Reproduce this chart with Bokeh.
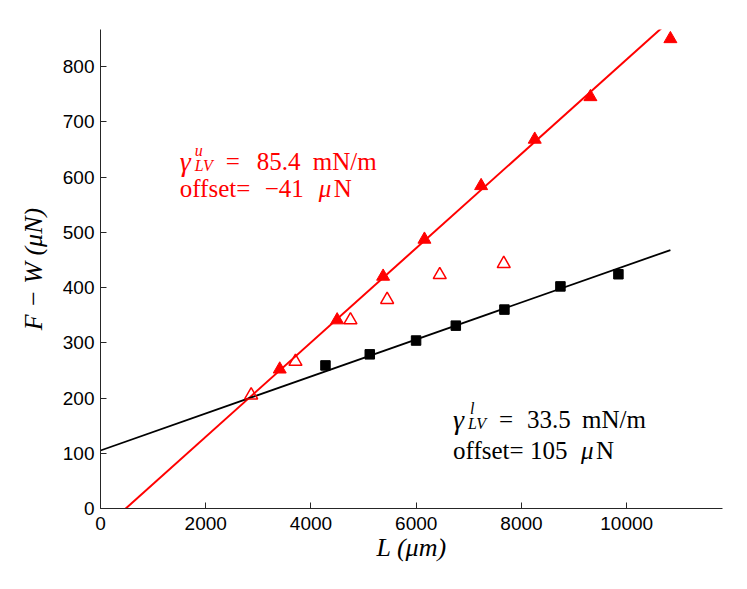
from bokeh.plotting import figure
from bokeh.models import Label, Range1d, FixedTicker
from bokeh.embed import file_html
from bokeh.resources import INLINE

# ---- data ----
L_upper = [3406, 4497, 5371, 6156, 7233, 8252, 9310, 10830]
F_upper = [252, 341, 420, 487, 584, 668, 745, 850]
L_open = [2863, 3705, 4750, 5447, 6447, 7663]
F_open = [205, 266, 341, 378, 423, 443]
L_lower = [4275, 5117, 5997, 6752, 7676, 8740, 9842]
F_lower = [259, 279, 304, 331, 360, 402, 424]

gamma_u, offset_u = 85.4, -41.0   # mN/m, uN
gamma_l, offset_l = 33.5, 105.0
L_fit = [0, 10830]

x_ticks = [0, 2000, 4000, 6000, 8000, 10000]
y_ticks = [0, 100, 200, 300, 400, 500, 600, 700, 800]

RED = "#ff0000"
SERIF = "Liberation Serif"
SANS = "Liberation Sans"

p = figure(frame_width=622, frame_height=479,
           x_range=Range1d(0, 11820), y_range=Range1d(0, 867),
           output_backend="svg", toolbar_location=None,
           min_border_left=100, min_border_right=17,
           min_border_top=29, min_border_bottom=73)
p.xgrid.visible = False
p.ygrid.visible = False
p.outline_line_color = None
p.background_fill_color = "white"

p.xaxis.ticker = FixedTicker(ticks=x_ticks)
p.yaxis.ticker = FixedTicker(ticks=y_ticks)
for ax in (p.xaxis, p.yaxis):
    ax.major_label_text_font = SANS
    ax.major_label_text_font_size = "19px"
    ax.major_label_text_color = "black"
    ax.major_tick_in = 6
    ax.major_tick_out = 0
    ax.minor_tick_in = 0
    ax.minor_tick_out = 0
    ax.axis_line_color = "#262626"
    ax.major_tick_line_color = "#262626"
    ax.axis_line_width = 1
    ax.axis_label_text_font = SERIF
    ax.axis_label_text_font_style = "italic"
    ax.axis_label_text_font_size = "26px"
    ax.axis_label_text_color = "black"
p.xaxis.major_label_standoff = 8
p.yaxis.major_label_standoff = 6
p.xaxis.axis_label = "L (μm)"
p.yaxis.axis_label = "F − W (μN)"
p.xaxis.axis_label_standoff = 0
p.yaxis.axis_label_standoff = 12

# fit lines
p.line(L_fit, [gamma_u * x / 1000 + offset_u for x in L_fit], line_color=RED, line_width=2)
p.line(L_fit, [gamma_l * x / 1000 + offset_l for x in L_fit], line_color="black", line_width=1.8)

# markers
p.scatter(L_upper, F_upper, marker="triangle", size=13, fill_color=RED, line_color=RED)
p.scatter(L_open, F_open, marker="triangle", size=13, fill_alpha=0, line_color=RED, line_width=1.5)
p.scatter(L_lower, F_lower, marker="square", size=9.5, fill_color="black", line_color="black")


def lab(x, y, text, dx=0, dy=0, size="25px", italic=False, color="black"):
    p.add_layout(Label(x=x, y=y, x_offset=dx, y_offset=dy, text=text,
                       text_font=SERIF, text_font_size=size,
                       text_font_style="italic" if italic else "normal",
                       text_color=color, text_align="left",
                       text_baseline="alphabetic"))


# red annotation
rx, ry = 1506, 628.6
lab(rx, ry, "γ", 0, 0, size="28px", italic=True, color=RED)
lab(rx, ry, "u", 15, 11, size="16px", italic=True, color=RED)
lab(rx, ry, "LV", 15, -4, size="16px", italic=True, color=RED)
lab(rx, ry, "=", 46, 0, color=RED)
lab(rx, ry, "85.4", 77, 0, color=RED)
lab(rx, ry, "mN/m", 133, 0, color=RED)
lab(rx, ry, "offset=", 0, -27, color=RED)
lab(rx, ry, "−41", 85, -27, color=RED)
lab(rx, ry, "μ", 139, -27, italic=True, color=RED)
lab(rx, ry, "N", 154, -27, color=RED)

# black annotation
bx, by = 6699, 161.6
lab(bx, by, "γ", 0, 0, size="28px", italic=True)
lab(bx, by, "l", 17, 11, size="16px", italic=True)
lab(bx, by, "LV", 15, -4, size="16px", italic=True)
lab(bx, by, "=", 46, 0)
lab(bx, by, "33.5", 74, 0)
lab(bx, by, "mN/m", 129, 0)
lab(bx, by, "offset=", 0, -31)
lab(bx, by, "105", 77, -31)
lab(bx, by, "μ", 128, -31, italic=True)
lab(bx, by, "N", 143, -31)

open("out.html", "w").write(file_html(p, INLINE))
